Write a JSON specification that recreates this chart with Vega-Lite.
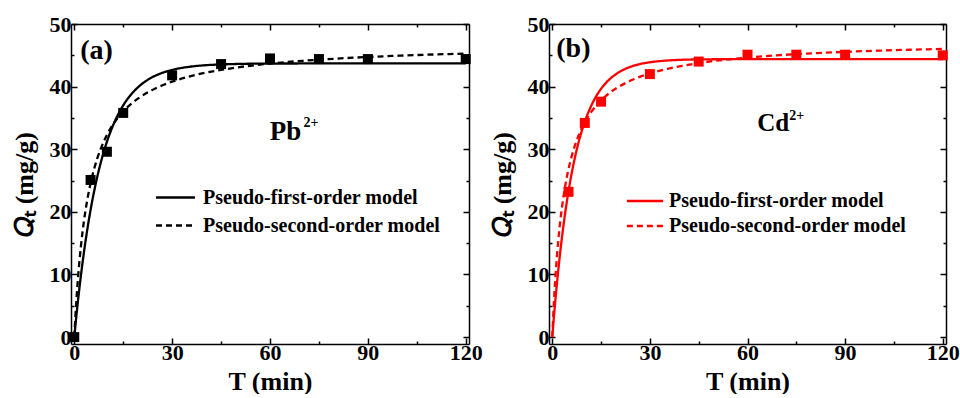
{
  "$schema": "https://vega.github.io/schema/vega-lite/v6.json",
  "background": "white",
  "padding": {"left": 11, "top": 13, "right": 0, "bottom": 0},
  "spacing": 6,
  "config": {
    "font": "Times New Roman",
    "view": {"stroke": null},
    "axis": {
      "grid": false,
      "domainColor": "black",
      "domainWidth": 1.5,
      "tickColor": "black",
      "tickWidth": 1.5,
      "labelFont": "Times New Roman",
      "labelFontWeight": "bold",
      "labelFontSize": 22,
      "labelColor": "black",
      "labelOverlap": false,
      "labelFlush": false,
      "titleFont": "Times New Roman",
      "titleFontWeight": "bold",
      "titleFontSize": 26,
      "titleColor": "black"
    },
    "legend": {
      "orient": "none",
      "padding": 0,
      "title": null,
      "labelFont": "Times New Roman",
      "labelFontWeight": "bold",
      "labelFontSize": 20,
      "labelColor": "black",
      "labelLimit": 400,
      "symbolStrokeWidth": 2.5,
      "rowPadding": 1
    },
    "text": {"font": "Times New Roman"}
  },
  "datasets": {
    "pb_points": [
      {"t": 0, "q": 0}, {"t": 5, "q": 25.1}, {"t": 10, "q": 29.6}, {"t": 15, "q": 35.8},
      {"t": 30, "q": 41.8}, {"t": 45, "q": 43.6}, {"t": 60, "q": 44.5}, {"t": 75, "q": 44.4},
      {"t": 90, "q": 44.4}, {"t": 120, "q": 44.4}
    ],
    "cd_points": [
      {"t": 5, "q": 23.2}, {"t": 10, "q": 34.2}, {"t": 15, "q": 37.6}, {"t": 30, "q": 42.0},
      {"t": 45, "q": 44.0}, {"t": 60, "q": 45.1}, {"t": 75, "q": 45.1}, {"t": 90, "q": 45.1},
      {"t": 120, "q": 45.0}
    ],
    "pb_fit": [
      {"model": "Pseudo-first-order model", "t": 0, "q": 0},
      {"model": "Pseudo-first-order model", "t": 1, "q": 5.13},
      {"model": "Pseudo-first-order model", "t": 2, "q": 9.67},
      {"model": "Pseudo-first-order model", "t": 3, "q": 13.67},
      {"model": "Pseudo-first-order model", "t": 4, "q": 17.19},
      {"model": "Pseudo-first-order model", "t": 5, "q": 20.31},
      {"model": "Pseudo-first-order model", "t": 6, "q": 23.06},
      {"model": "Pseudo-first-order model", "t": 7, "q": 25.48},
      {"model": "Pseudo-first-order model", "t": 8, "q": 27.62},
      {"model": "Pseudo-first-order model", "t": 9, "q": 29.51},
      {"model": "Pseudo-first-order model", "t": 10, "q": 31.18},
      {"model": "Pseudo-first-order model", "t": 12, "q": 33.95},
      {"model": "Pseudo-first-order model", "t": 14, "q": 36.10},
      {"model": "Pseudo-first-order model", "t": 16, "q": 37.79},
      {"model": "Pseudo-first-order model", "t": 18, "q": 39.09},
      {"model": "Pseudo-first-order model", "t": 20, "q": 40.11},
      {"model": "Pseudo-first-order model", "t": 23, "q": 41.24},
      {"model": "Pseudo-first-order model", "t": 26, "q": 42.00},
      {"model": "Pseudo-first-order model", "t": 30, "q": 42.67},
      {"model": "Pseudo-first-order model", "t": 35, "q": 43.15},
      {"model": "Pseudo-first-order model", "t": 40, "q": 43.41},
      {"model": "Pseudo-first-order model", "t": 45, "q": 43.54},
      {"model": "Pseudo-first-order model", "t": 50, "q": 43.62},
      {"model": "Pseudo-first-order model", "t": 60, "q": 43.68},
      {"model": "Pseudo-first-order model", "t": 75, "q": 43.70},
      {"model": "Pseudo-first-order model", "t": 90, "q": 43.70},
      {"model": "Pseudo-first-order model", "t": 105, "q": 43.70},
      {"model": "Pseudo-first-order model", "t": 120, "q": 43.70},
      {"model": "Pseudo-second-order model", "t": 0, "q": 0},
      {"model": "Pseudo-second-order model", "t": 0.5, "q": 4.64},
      {"model": "Pseudo-second-order model", "t": 1, "q": 8.44},
      {"model": "Pseudo-second-order model", "t": 2, "q": 14.32},
      {"model": "Pseudo-second-order model", "t": 3, "q": 18.64},
      {"model": "Pseudo-second-order model", "t": 4, "q": 21.95},
      {"model": "Pseudo-second-order model", "t": 5, "q": 24.57},
      {"model": "Pseudo-second-order model", "t": 6, "q": 26.69},
      {"model": "Pseudo-second-order model", "t": 7, "q": 28.45},
      {"model": "Pseudo-second-order model", "t": 8, "q": 29.92},
      {"model": "Pseudo-second-order model", "t": 10, "q": 32.27},
      {"model": "Pseudo-second-order model", "t": 12, "q": 34.05},
      {"model": "Pseudo-second-order model", "t": 14, "q": 35.44},
      {"model": "Pseudo-second-order model", "t": 16, "q": 36.57},
      {"model": "Pseudo-second-order model", "t": 18, "q": 37.49},
      {"model": "Pseudo-second-order model", "t": 20, "q": 38.26},
      {"model": "Pseudo-second-order model", "t": 25, "q": 39.74},
      {"model": "Pseudo-second-order model", "t": 30, "q": 40.79},
      {"model": "Pseudo-second-order model", "t": 35, "q": 41.58},
      {"model": "Pseudo-second-order model", "t": 40, "q": 42.19},
      {"model": "Pseudo-second-order model", "t": 45, "q": 42.67},
      {"model": "Pseudo-second-order model", "t": 50, "q": 43.07},
      {"model": "Pseudo-second-order model", "t": 60, "q": 43.68},
      {"model": "Pseudo-second-order model", "t": 70, "q": 44.12},
      {"model": "Pseudo-second-order model", "t": 80, "q": 44.46},
      {"model": "Pseudo-second-order model", "t": 90, "q": 44.73},
      {"model": "Pseudo-second-order model", "t": 100, "q": 44.95},
      {"model": "Pseudo-second-order model", "t": 110, "q": 45.13},
      {"model": "Pseudo-second-order model", "t": 120, "q": 45.28}
    ],
    "cd_fit": [
      {"model": "Pseudo-first-order model", "t": 0, "q": 0},
      {"model": "Pseudo-first-order model", "t": 1, "q": 6.14},
      {"model": "Pseudo-first-order model", "t": 2, "q": 11.44},
      {"model": "Pseudo-first-order model", "t": 3, "q": 16.00},
      {"model": "Pseudo-first-order model", "t": 4, "q": 19.93},
      {"model": "Pseudo-first-order model", "t": 5, "q": 23.32},
      {"model": "Pseudo-first-order model", "t": 6, "q": 26.24},
      {"model": "Pseudo-first-order model", "t": 7, "q": 28.75},
      {"model": "Pseudo-first-order model", "t": 8, "q": 30.92},
      {"model": "Pseudo-first-order model", "t": 9, "q": 32.78},
      {"model": "Pseudo-first-order model", "t": 10, "q": 34.39},
      {"model": "Pseudo-first-order model", "t": 12, "q": 36.97},
      {"model": "Pseudo-first-order model", "t": 14, "q": 38.89},
      {"model": "Pseudo-first-order model", "t": 16, "q": 40.31},
      {"model": "Pseudo-first-order model", "t": 18, "q": 41.36},
      {"model": "Pseudo-first-order model", "t": 20, "q": 42.14},
      {"model": "Pseudo-first-order model", "t": 23, "q": 42.96},
      {"model": "Pseudo-first-order model", "t": 26, "q": 43.48},
      {"model": "Pseudo-first-order model", "t": 30, "q": 43.89},
      {"model": "Pseudo-first-order model", "t": 35, "q": 44.16},
      {"model": "Pseudo-first-order model", "t": 40, "q": 44.29},
      {"model": "Pseudo-first-order model", "t": 45, "q": 44.35},
      {"model": "Pseudo-first-order model", "t": 50, "q": 44.37},
      {"model": "Pseudo-first-order model", "t": 60, "q": 44.39},
      {"model": "Pseudo-first-order model", "t": 75, "q": 44.40},
      {"model": "Pseudo-first-order model", "t": 90, "q": 44.40},
      {"model": "Pseudo-first-order model", "t": 105, "q": 44.40},
      {"model": "Pseudo-first-order model", "t": 120, "q": 44.40},
      {"model": "Pseudo-second-order model", "t": 0, "q": 0},
      {"model": "Pseudo-second-order model", "t": 0.5, "q": 5.46},
      {"model": "Pseudo-second-order model", "t": 1, "q": 9.80},
      {"model": "Pseudo-second-order model", "t": 2, "q": 16.25},
      {"model": "Pseudo-second-order model", "t": 3, "q": 20.81},
      {"model": "Pseudo-second-order model", "t": 4, "q": 24.22},
      {"model": "Pseudo-second-order model", "t": 5, "q": 26.85},
      {"model": "Pseudo-second-order model", "t": 6, "q": 28.94},
      {"model": "Pseudo-second-order model", "t": 7, "q": 30.66},
      {"model": "Pseudo-second-order model", "t": 8, "q": 32.08},
      {"model": "Pseudo-second-order model", "t": 10, "q": 34.31},
      {"model": "Pseudo-second-order model", "t": 12, "q": 35.97},
      {"model": "Pseudo-second-order model", "t": 14, "q": 37.26},
      {"model": "Pseudo-second-order model", "t": 16, "q": 38.29},
      {"model": "Pseudo-second-order model", "t": 18, "q": 39.14},
      {"model": "Pseudo-second-order model", "t": 20, "q": 39.84},
      {"model": "Pseudo-second-order model", "t": 25, "q": 41.17},
      {"model": "Pseudo-second-order model", "t": 30, "q": 42.10},
      {"model": "Pseudo-second-order model", "t": 35, "q": 42.80},
      {"model": "Pseudo-second-order model", "t": 40, "q": 43.33},
      {"model": "Pseudo-second-order model", "t": 45, "q": 43.76},
      {"model": "Pseudo-second-order model", "t": 50, "q": 44.11},
      {"model": "Pseudo-second-order model", "t": 60, "q": 44.64},
      {"model": "Pseudo-second-order model", "t": 70, "q": 45.03},
      {"model": "Pseudo-second-order model", "t": 80, "q": 45.32},
      {"model": "Pseudo-second-order model", "t": 90, "q": 45.55},
      {"model": "Pseudo-second-order model", "t": 100, "q": 45.74},
      {"model": "Pseudo-second-order model", "t": 110, "q": 45.89},
      {"model": "Pseudo-second-order model", "t": 120, "q": 46.02}
    ]
  },
  "hconcat": [
    {
      "width": 398,
      "height": 320,
      "layer": [
        {
          "data": {"name": "pb_fit"},
          "mark": {"type": "line", "interpolate": "monotone", "color": "black", "strokeWidth": 2.3},
          "encoding": {
            "x": {
              "field": "t", "type": "quantitative",
              "scale": {"domain": [-1, 121], "nice": false, "zero": false},
              "axis": {
                "orient": "bottom", "title": "T (min)", "titlePadding": 2,
                "values": [0, 15, 30, 45, 60, 75, 90, 105, 120],
                "labelExpr": "datum.value % 30 === 0 ? datum.label : ''",
                "tickSize": {"condition": {"test": "datum.value % 30 === 0", "value": -6}, "value": -3},
                "labelPadding": 4
              }
            },
            "y": {
              "field": "q", "type": "quantitative",
              "scale": {"domain": [-1.1, 50], "nice": false, "zero": false},
              "axis": {
                "orient": "left", "title": "𝑄ₜ (mg/g)", "titlePadding": 12,
                "values": [0, 5, 10, 15, 20, 25, 30, 35, 40, 45, 50],
                "labelExpr": "datum.value % 10 === 0 ? datum.label : ''",
                "tickSize": {"condition": {"test": "datum.value % 10 === 0", "value": -6}, "value": -3},
                "labelPadding": 6
              }
            },
            "strokeDash": {
              "field": "model", "type": "nominal",
              "scale": {"domain": ["Pseudo-first-order model", "Pseudo-second-order model"], "range": [[1, 0], [6, 4]]},
              "legend": {
                "legendX": 88, "legendY": 157,
                "symbolType": "M-1.3,0H1.3", "symbolSize": 900,
                "symbolStrokeColor": "black", "labelOffset": 11
              }
            }
          }
        },
        {
          "data": {"name": "pb_points"},
          "mark": {"type": "square", "size": 100, "color": "black", "opacity": 1},
          "encoding": {
            "x": {
              "field": "t", "type": "quantitative",
              "axis": {
                "orient": "top", "title": null, "labels": false,
                "values": [0, 15, 30, 45, 60, 75, 90, 105, 120],
                "tickSize": {"condition": {"test": "datum.value % 30 === 0", "value": -6}, "value": -3}
              }
            },
            "y": {
              "field": "q", "type": "quantitative",
              "axis": {
                "orient": "right", "title": null, "labels": false,
                "values": [0, 5, 10, 15, 20, 25, 30, 35, 40, 45, 50],
                "tickSize": {"condition": {"test": "datum.value % 10 === 0", "value": -6}, "value": -3}
              }
            }
          }
        },
        {
          "data": {"values": [{}]},
          "mark": {"type": "text", "align": "left", "baseline": "alphabetic", "font": "Times New Roman", "fontSize": 28, "fontWeight": "bold", "color": "black"},
          "encoding": {
            "x": {"datum": 1.8, "type": "quantitative", "axis": null},
            "y": {"datum": 44.4, "type": "quantitative", "axis": null},
            "text": {"value": "(a)"}
          }
        },
        {
          "data": {"values": [{}]},
          "mark": {"type": "text", "align": "left", "baseline": "alphabetic", "font": "Times New Roman", "fontSize": 27, "fontWeight": "bold", "color": "black"},
          "encoding": {
            "x": {"datum": 59.9, "type": "quantitative", "axis": null},
            "y": {"datum": 31.5, "type": "quantitative", "axis": null},
            "text": {"value": "Pb"}
          }
        },
        {
          "data": {"values": [{}]},
          "mark": {"type": "text", "align": "left", "baseline": "alphabetic", "font": "Times New Roman", "fontSize": 14, "fontWeight": "bold", "color": "black"},
          "encoding": {
            "x": {"datum": 70.3, "type": "quantitative", "axis": null},
            "y": {"datum": 33.6, "type": "quantitative", "axis": null},
            "text": {"value": "2+"}
          }
        }
      ],
      "resolve": {"axis": {"x": "independent", "y": "independent"}}
    },
    {
      "width": 397,
      "height": 320,
      "layer": [
        {
          "data": {"name": "cd_fit"},
          "mark": {"type": "line", "interpolate": "monotone", "color": "#ff0000", "strokeWidth": 2.3},
          "encoding": {
            "x": {
              "field": "t", "type": "quantitative",
              "scale": {"domain": [-1, 121], "nice": false, "zero": false},
              "axis": {
                "orient": "bottom", "title": "T (min)", "titlePadding": 2,
                "values": [0, 15, 30, 45, 60, 75, 90, 105, 120],
                "labelExpr": "datum.value % 30 === 0 ? datum.label : ''",
                "tickSize": {"condition": {"test": "datum.value % 30 === 0", "value": -6}, "value": -3},
                "labelPadding": 4
              }
            },
            "y": {
              "field": "q", "type": "quantitative",
              "scale": {"domain": [-1.1, 50], "nice": false, "zero": false},
              "axis": {
                "orient": "left", "title": "𝑄ₜ (mg/g)", "titlePadding": 12,
                "values": [0, 5, 10, 15, 20, 25, 30, 35, 40, 45, 50],
                "labelExpr": "datum.value % 10 === 0 ? datum.label : ''",
                "tickSize": {"condition": {"test": "datum.value % 10 === 0", "value": -6}, "value": -3},
                "labelPadding": 6
              }
            },
            "strokeDash": {
              "field": "model", "type": "nominal",
              "scale": {"domain": ["Pseudo-first-order model", "Pseudo-second-order model"], "range": [[1, 0], [6, 4]]},
              "legend": {
                "legendX": 82, "legendY": 163,
                "symbolType": "M-1.45,0H1.45", "symbolSize": 625,
                "symbolStrokeColor": "#ff0000", "labelOffset": 10
              }
            }
          }
        },
        {
          "data": {"name": "cd_points"},
          "mark": {"type": "square", "size": 100, "color": "#ff0000", "opacity": 1},
          "encoding": {
            "x": {
              "field": "t", "type": "quantitative",
              "axis": {
                "orient": "top", "title": null, "labels": false,
                "values": [0, 15, 30, 45, 60, 75, 90, 105, 120],
                "tickSize": {"condition": {"test": "datum.value % 30 === 0", "value": -6}, "value": -3}
              }
            },
            "y": {
              "field": "q", "type": "quantitative",
              "axis": {
                "orient": "right", "title": null, "labels": false,
                "values": [0, 5, 10, 15, 20, 25, 30, 35, 40, 45, 50],
                "tickSize": {"condition": {"test": "datum.value % 10 === 0", "value": -6}, "value": -3}
              }
            }
          }
        },
        {
          "data": {"values": [{}]},
          "mark": {"type": "text", "align": "left", "baseline": "alphabetic", "font": "Times New Roman", "fontSize": 28, "fontWeight": "bold", "color": "black"},
          "encoding": {
            "x": {"datum": 1.24, "type": "quantitative", "axis": null},
            "y": {"datum": 44.7, "type": "quantitative", "axis": null},
            "text": {"value": "(b)"}
          }
        },
        {
          "data": {"values": [{}]},
          "mark": {"type": "text", "align": "left", "baseline": "alphabetic", "font": "Times New Roman", "fontSize": 25, "fontWeight": "bold", "color": "black"},
          "encoding": {
            "x": {"datum": 63.0, "type": "quantitative", "axis": null},
            "y": {"datum": 32.85, "type": "quantitative", "axis": null},
            "text": {"value": "Cd"}
          }
        },
        {
          "data": {"values": [{}]},
          "mark": {"type": "text", "align": "left", "baseline": "alphabetic", "font": "Times New Roman", "fontSize": 14, "fontWeight": "bold", "color": "black"},
          "encoding": {
            "x": {"datum": 72.8, "type": "quantitative", "axis": null},
            "y": {"datum": 34.6, "type": "quantitative", "axis": null},
            "text": {"value": "2+"}
          }
        }
      ],
      "resolve": {"axis": {"x": "independent", "y": "independent"}}
    }
  ],
  "resolve": {"legend": {"strokeDash": "independent"}, "scale": {"strokeDash": "independent"}}
}
